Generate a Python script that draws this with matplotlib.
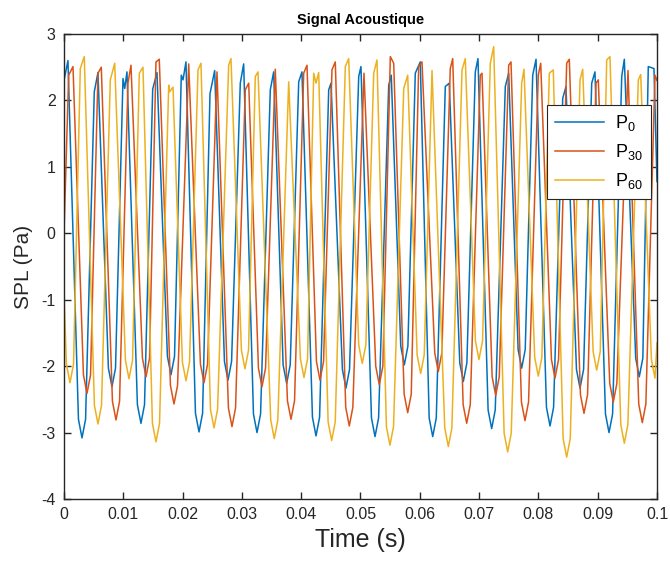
import matplotlib
matplotlib.use("Agg")
import matplotlib.pyplot as plt

plt.rcParams['font.family'] = ['Liberation Sans', 'DejaVu Sans']
plt.rcParams['mathtext.fontset'] = 'custom'
plt.rcParams['mathtext.rm'] = 'Liberation Sans'
plt.rcParams['mathtext.default'] = 'regular'
plt.rcParams['axes.unicode_minus'] = False

# Signal values (time in ms, pressure in Pa)
p0_t = [0.0, 0.67, 2.44, 3.04, 3.64, 5.11, 5.73, 7.49, 8.09, 8.69, 9.95, 10.24, 10.62,
        12.38, 12.98, 13.58, 14.96, 15.68, 17.44, 18.04, 18.64, 19.78, 20.07, 20.57,
        22.17, 22.77, 23.37, 24.62, 25.41, 27.06, 27.66, 28.26, 29.73, 30.30, 31.95,
        32.55, 33.15, 34.79, 35.36, 36.95, 37.55, 38.15, 39.58, 40.13, 41.90, 42.50,
        43.10, 44.64, 45.03, 46.95, 47.55, 48.15, 49.70, 50.08, 51.85, 52.45, 53.05,
        54.76, 55.19, 56.79, 57.39, 57.99, 59.24, 60.08, 61.58, 62.18, 62.78, 64.30,
        64.97, 66.74, 67.34, 67.94, 69.36, 69.81, 71.52, 72.12, 72.72, 74.42, 74.99,
        76.58, 77.18, 77.78, 79.04, 79.60, 81.36, 81.96, 82.56, 84.10, 84.65, 86.42,
        87.02, 87.62, 88.99, 89.54, 91.31, 91.91, 92.51, 94.05, 94.49, 96.41, 97.01,
        97.61, 98.53, 99.49, 100.0]
p0_v = [2.30, 2.60, -2.80, -3.08, -2.80, 2.13, 2.42, -2.03, -2.31, -2.03, 2.33, 2.18, 2.43,
        -2.58, -2.86, -2.58, 2.17, 2.42, -1.85, -2.13, -1.85, 2.38, 2.31, 2.58,
        -2.71, -2.99, -2.71, 2.10, 2.45, -1.93, -2.21, -1.93, 2.26, 2.55, -2.72,
        -3.00, -2.72, 2.16, 2.43, -1.98, -2.26, -1.98, 2.28, 2.43, -2.77, -3.05,
        -2.77, 2.16, 2.26, -2.05, -2.33, -2.05, 2.36, 2.51, -2.78, -3.06, -2.78,
        2.23, 2.38, -1.70, -1.98, -1.70, 2.41, 2.58, -2.78, -3.06, -2.78, 2.21,
        2.26, -1.95, -2.23, -1.95, 2.43, 2.63, -2.66, -2.94, -2.66, 2.21, 2.41,
        -1.75, -2.03, -1.75, 2.38, 2.62, -2.62, -2.90, -2.62, 2.03, 2.21, -2.05,
        -2.33, -2.05, 2.26, 2.43, -2.72, -3.00, -2.72, 2.36, 2.62, -1.88, -2.16,
        -1.88, 2.51, 2.48, 0.78]

p30_t = [0.0, 0.79, 1.52, 3.28, 3.88, 4.48, 5.73, 6.29, 8.17, 8.77, 9.37, 10.79, 11.30,
         13.23, 13.83, 14.43, 15.51, 16.07, 17.95, 18.55, 19.15, 21.03, 23.01, 23.61,
         24.21, 25.80, 27.73, 28.33, 28.93, 30.57, 31.15, 32.79, 33.39, 33.99, 35.63,
         37.68, 38.28, 38.88, 40.42, 40.98, 42.57, 43.17, 43.77, 45.19, 45.75, 47.51,
         48.11, 48.71, 50.59, 52.57, 53.17, 53.77, 55.03, 55.60, 57.36, 57.96, 58.56,
         59.81, 60.37, 62.52, 63.12, 63.72, 65.14, 65.55, 67.31, 67.91, 68.51, 70.20,
         70.49, 72.20, 72.80, 73.40, 74.99, 75.38, 77.14, 77.74, 78.34, 79.98, 80.39,
         82.20, 82.80, 83.40, 84.77, 85.21, 87.09, 87.69, 88.29, 89.71, 90.10, 92.03,
         92.63, 93.23, 95.11, 96.92, 97.52, 98.12, 99.66, 100.0]
p30_v = [0.00, 2.38, 2.51, -2.13, -2.41, -2.13, 2.41, 2.50, -2.53, -2.81, -2.53, 2.26, 2.53,
         -1.88, -2.16, -1.88, 2.58, 2.62, -2.29, -2.57, -2.29, 2.55, -1.97, -2.25,
         -1.97, 2.43, -2.63, -2.91, -2.63, 2.16, 2.26, -2.03, -2.31, -2.03, 2.47,
         -2.52, -2.80, -2.52, 2.41, 2.53, -1.93, -2.21, -1.93, 2.46, 2.58, -2.62,
         -2.90, -2.62, 2.41, -2.00, -2.28, -2.00, 2.66, 2.56, -2.42, -2.70, -2.42,
         2.51, 2.58, -1.80, -2.08, -1.80, 2.48, 2.63, -2.58, -2.86, -2.58, 2.38,
         2.41, -2.16, -2.44, -2.16, 2.53, 2.58, -2.54, -2.82, -2.54, 2.38, 2.56,
         -1.90, -2.18, -1.90, 2.56, 2.62, -2.43, -2.71, -2.43, 2.26, 2.31, -2.26,
         -2.54, -2.26, 2.45, -2.57, -2.85, -2.57, 2.38, 2.30]

p60_t = [0.0, 0.41, 1.01, 1.61, 2.75, 3.42, 5.13, 5.73, 6.33, 7.81, 8.55, 10.36, 10.96,
         11.56, 12.70, 13.32, 14.91, 15.51, 16.11, 17.66, 17.82, 18.38, 19.97, 20.57,
         21.17, 22.60, 23.10, 24.70, 25.30, 25.90, 27.77, 28.16, 29.92, 30.52, 31.12,
         32.26, 32.72, 34.86, 35.46, 36.06, 37.89, 39.87, 40.47, 41.07, 42.11, 42.50,
         42.95, 44.54, 45.14, 45.74, 47.44, 48.01, 49.70, 50.30, 50.90, 52.23, 52.78,
         54.37, 54.97, 55.57, 57.29, 57.96, 59.55, 60.15, 60.75, 62.06, 64.21, 64.81,
         65.41, 67.12, 67.67, 69.38, 69.98, 70.58, 71.89, 72.46, 74.22, 74.82, 75.42,
         77.18, 77.57, 79.38, 79.98, 80.58, 81.84, 82.51, 84.17, 84.77, 85.37, 87.02,
         87.47, 89.23, 89.83, 90.43, 91.52, 92.07, 93.89, 94.49, 95.09, 96.85, 97.25,
         99.06, 99.66, 100.0]
p60_v = [-0.90, -1.97, -2.25, -1.97, 2.48, 2.66, -2.59, -2.87, -2.59, 2.31, 2.56, -1.91, -2.19,
         -1.91, 2.41, 2.50, -2.86, -3.14, -2.86, 2.23, 2.13, 2.20, -1.94, -2.22,
         -1.94, 2.46, 2.56, -2.65, -2.93, -2.65, 2.53, 2.63, -1.76, -2.04, -1.76,
         2.36, 2.43, -2.81, -3.09, -2.81, 2.28, -1.89, -2.17, -1.89, 2.41, 2.26,
         2.42, -2.84, -3.12, -2.84, 2.51, 2.63, -1.68, -1.96, -1.68, 2.41, 2.61,
         -2.91, -3.19, -2.91, 2.18, 2.38, -1.83, -2.11, -1.83, 2.45, -2.93, -3.21,
         -2.93, 2.46, 2.63, -1.62, -1.90, -1.62, 2.56, 2.81, -3.01, -3.29, -3.01,
         2.26, 2.47, -1.87, -2.15, -1.87, 2.41, 2.46, -3.09, -3.37, -3.09, 2.31,
         2.47, -1.78, -2.06, -1.78, 2.61, 2.66, -2.88, -3.16, -2.88, 2.31, 2.39,
         -1.90, -2.18, -1.65]

series_labels = ['P$_{0}$', 'P$_{30}$', 'P$_{60}$']
series_colors = ['#0072BD', '#D95319', '#EDB120']

x_ticks = [0, 0.01, 0.02, 0.03, 0.04, 0.05, 0.06, 0.07, 0.08, 0.09, 0.1]
x_ticklabels = ['0', '0.01', '0.02', '0.03', '0.04', '0.05', '0.06', '0.07', '0.08', '0.09', '0.1']
y_ticks = [-4, -3, -2, -1, 0, 1, 2, 3]
y_ticklabels = ['-4', '-3', '-2', '-1', '0', '1', '2', '3']

fig = plt.figure(figsize=(6.7, 5.67), dpi=100)
ax = fig.add_axes([0.0955, 0.1199, 0.8851, 0.8201])

for t, v, lab, col in zip([p0_t, p30_t, p60_t], [p0_v, p30_v, p60_v], series_labels, series_colors):
    ax.plot([x / 1000 for x in t], v, color=col, lw=1.1, label=lab)

ax.set_xlim(0, 0.1)
ax.set_ylim(-4, 3)
ax.set_xticks(x_ticks)
ax.set_xticklabels(x_ticklabels)
ax.set_yticks(y_ticks)
ax.set_yticklabels(y_ticklabels)

axis_col = '#262626'
for s in ax.spines.values():
    s.set_color(axis_col)
    s.set_linewidth(1.0)
ax.tick_params(direction='in', length=5, width=1.0, top=True, right=True,
               labelsize=11.5, colors=axis_col, pad=6)

ax.set_title('Signal Acoustique', fontsize=10.5, fontweight='bold', color='black', pad=7)
ax.set_xlabel('Time (s)', fontsize=18, color=axis_col, labelpad=4)
ax.set_ylabel('SPL (Pa)', fontsize=15, color=axis_col, labelpad=6)

leg = ax.legend(loc='upper left', bbox_to_anchor=(0.815, 0.847), borderaxespad=0,
                fontsize=13, handlelength=2.7, handletextpad=0.6, borderpad=0.45,
                labelspacing=0.5, fancybox=False, framealpha=1, edgecolor=axis_col)
leg.get_frame().set_linewidth(0.8)

fig.savefig('out.png', dpi=100)
